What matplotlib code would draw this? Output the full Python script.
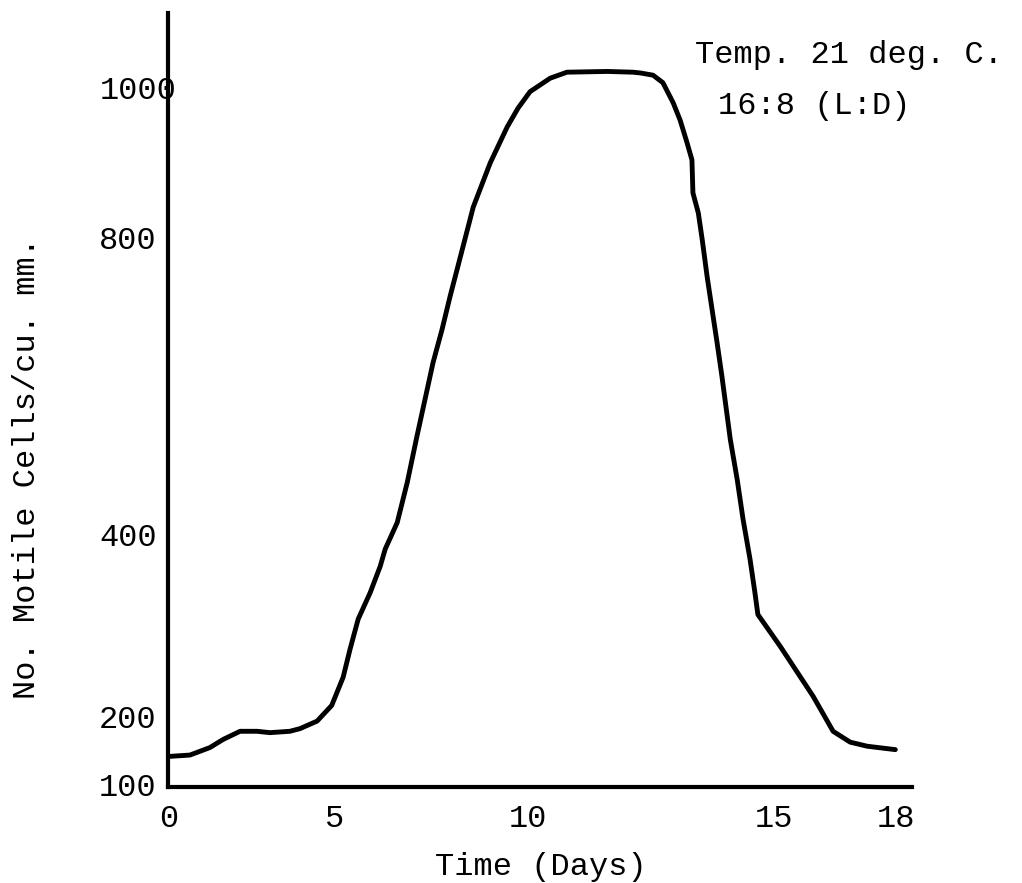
import numpy as np
import matplotlib
matplotlib.use('Agg')
import matplotlib.pyplot as plt
import matplotlib.transforms as mtransforms

# readings (days, motile cells per cu. mm.)
days = [0, 0.63, 1.23, 1.63, 2.14, 2.65, 3.04, 3.64, 3.95, 4.46, 4.9,
        5.21, 5.39, 5.6, 5.91, 6.17, 6.3, 6.61, 6.87, 7.12, 7.33, 7.54,
        7.77, 7.98, 8.16, 8.58, 9.02, 9.46, 9.74, 10.04, 10.45, 10.79,
        11.61, 12.13, 12.28, 12.54, 12.74, 12.95, 13.09, 13.23, 13.33,
        13.35, 13.46, 13.54, 13.64, 13.74, 13.84, 13.94, 14.11, 14.25,
        14.37, 14.51, 14.61, 14.67, 15.15, 15.96, 16.45, 16.87, 17.29, 17.98]
cells = [141, 143, 154, 166, 178, 178, 176, 178, 182, 193, 212,
         243, 274, 307, 336, 365, 384, 416, 470, 532, 582, 632,
         676, 721, 757, 841, 900, 948, 973, 995, 1013, 1021,
         1022, 1021, 1020, 1017, 1007, 980, 957, 927, 904,
         860, 833, 797, 747, 703, 659, 613, 528, 474,
         420, 373, 336, 312, 277, 222, 178, 162, 156, 151]

x_ticks = [0, 5, 10, 15, 18]
y_ticks = [100, 200, 400, 800, 1000]

# the hand drawn axes are not evenly spaced: piecewise linear scales
x_knots = [-1, 0, 5, 10, 15, 18, 20]
x_pos = [135.8, 169, 335, 528, 774, 896, 977.3]
y_knots = [0, 100, 200, 400, 800, 1000, 1200]
y_pos = [-66, 2, 70, 252, 549, 699, 849]


def fwd(k, p):
    return lambda v: np.interp(v, k, p)


def inv(k, p):
    return lambda v: np.interp(v, p, k)


font = ['Liberation Mono', 'DejaVu Sans Mono']
plt.rcParams['font.family'] = font
plt.rcParams['font.size'] = 23

fig = plt.figure(figsize=(10.22, 8.83), dpi=100)
ax = fig.add_axes([168 / 1022, 96 / 883, 744 / 1022, 774 / 883])

ax.set_xscale('function', functions=(fwd(x_knots, x_pos), inv(x_knots, x_pos)))
ax.set_yscale('function', functions=(fwd(y_knots, y_pos), inv(y_knots, y_pos)))

ax.plot(days, cells, color='black', lw=3.5, solid_capstyle='round', solid_joinstyle='round')

ax.set_xlim(-0.03, 18.39)
ax.set_ylim(96, 1100)

ax.set_xticks(x_ticks)
ax.set_xticklabels([str(t) for t in x_ticks])
ax.set_yticks(y_ticks)
ax.set_yticklabels([str(t) for t in y_ticks])
ax.minorticks_off()
ax.tick_params(axis='both', length=0, labelsize=23, colors='black')
ax.tick_params(axis='x', pad=12)
ax.tick_params(axis='y', pad=8)

# the typist overran the axis with "1000"
for lab in ax.get_yticklabels():
    if lab.get_text() == '1000':
        lab.set_transform(lab.get_transform() + mtransforms.ScaledTranslation(0.2, 0, fig.dpi_scale_trans))

for s in ('top', 'right'):
    ax.spines[s].set_visible(False)
for s in ('left', 'bottom'):
    ax.spines[s].set_linewidth(3.0)
    ax.spines[s].set_color('black')

ax.set_xlabel('Time (Days)', va='center')
ax.xaxis.set_label_coords(0.501, -0.103)
ax.set_ylabel('No. Motile Cells/cu. mm.', va='center')
ax.yaxis.set_label_coords(-0.189, 0.412)

ax.text(0.708, 0.946, 'Temp. 21 deg. C.', transform=ax.transAxes, ha='left', va='center')
ax.text(0.739, 0.880, '16:8 (L:D)', transform=ax.transAxes, ha='left', va='center')

fig.savefig('out.png', dpi=100, facecolor='white')
